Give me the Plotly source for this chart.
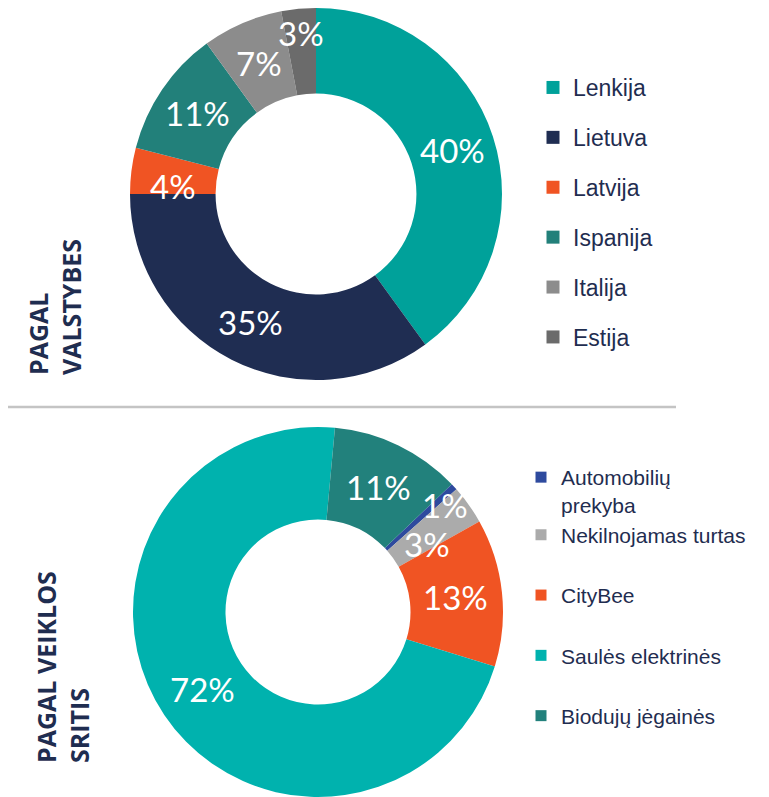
"""Two donut charts: investments by country and by business area."""

import math
import plotly.graph_objects as go

W, H = 769, 797
OFFSET = 8  # page body margin around the figure

# top donut - by country
country_labels = ['Lenkija', 'Lietuva', 'Latvija', 'Ispanija', 'Italija', 'Estija']
country_values = [40, 35, 4, 11, 7, 3]
country_colors = ['#00A19A', '#1F2D52', '#F05423', '#22807A', '#8C8C8C', '#6B6B6B']

# bottom donut - by business area
area_labels = ['Automobilių<br>prekyba', 'Nekilnojamas turtas', 'CityBee',
               'Saulės elektrinės', 'Biodujų jėgainės']
area_values = [0.6, 3.4, 12.9, 71.7, 11.4]
area_colors = ['#2E4A9E', '#ABABAB', '#F05423', '#00B2AE', '#22817C']

NAVY = '#1F2D50'


def px_x(x):
    return (x - OFFSET) / W


def px_y(y):
    # page pixel from top -> paper fraction from bottom
    return 1 - (y - OFFSET) / H


def pct_labels(values):
    total = sum(values)
    return [f"{round(100 * v / total):.0f}%" for v in values]


def label_positions(values, center, r_out, hole, rotation, dr, da):
    """Pixel positions of slice labels: mid angle, middle of the ring."""
    total = sum(values)
    r_mid = r_out * (1 + hole) / 2
    pos = []
    start = rotation
    for v, f, a in zip(values, dr, da):
        span = 360 * v / total
        ang = math.radians(start + span / 2 + a)
        r = r_mid * f
        pos.append((center[0] + r * math.sin(ang), center[1] - r * math.cos(ang)))
        start += span
    return pos


def donut(fig, labels, values, colors, center, r_out, hole, rotation, dr, da):
    cx, cy = center
    fig.add_trace(go.Pie(
        labels=[lab.replace('<br>', ' ') for lab in labels],
        values=values,
        hole=hole,
        sort=False,
        direction='clockwise',
        rotation=rotation,
        marker=dict(colors=colors, line=dict(width=0)),
        textinfo='none',
        domain=dict(x=[px_x(cx - r_out), px_x(cx + r_out)],
                    y=[max(0, px_y(cy + r_out)), px_y(cy - r_out)]),
        showlegend=False,
    ))
    for txt, (x, y) in zip(pct_labels(values),
                           label_positions(values, center, r_out, hole, rotation, dr, da)):
        fig.add_annotation(text=txt, xref='paper', yref='paper',
                           x=px_x(x), y=px_y(y), xanchor='center', yanchor='middle',
                           showarrow=False,
                           font=dict(family='Lato', size=33, color='white'))


fig = go.Figure()

donut(fig, country_labels, country_values, country_colors,
      center=(316, 194), r_out=186, hole=0.54, rotation=0,
      dr=[1, 1, 1, 1, 1, 1.126], da=[0, 0, -4, 0, 0, 0])
donut(fig, area_labels, area_values, area_colors,
      center=(318, 612), r_out=185, hole=0.5, rotation=46.3,
      dr=[1.2, 0.925, 1, 1, 1], da=[2.5, 3.4, 0, 0, 0])

# legend entries (dummy traces so item spacing can be controlled)
for name, color in zip(country_labels, country_colors):
    fig.add_trace(go.Scatter(
        x=[None], y=[None], mode='markers', name=name,
        marker=dict(symbol='square', size=13, color=color),
        legend='legend', legendgroup=name, hoverinfo='skip',
    ))

area_groups = ['g1', 'g1', 'g2', 'g3', 'g4']
for name, color, grp in zip(area_labels, area_colors, area_groups):
    fig.add_trace(go.Scatter(
        x=[None], y=[None], mode='markers', name=name,
        marker=dict(symbol='square', size=11, color=color),
        legend='legend2', legendgroup=grp, hoverinfo='skip',
    ))

fig.add_shape(type='line', xref='paper', yref='paper',
              x0=px_x(3), x1=px_x(676), y0=px_y(407), y1=px_y(407),
              line=dict(color='#C4C4C4', width=2.5))

side_font = dict(family='Open Sans', size=25, color=NAVY, weight='bold')
fig.add_annotation(text='PAGAL<br>VALSTYBES', xref='paper', yref='paper',
                   x=px_x(54), y=px_y(377), xanchor='center', yanchor='bottom',
                   textangle=-90, align='left', showarrow=False, font=side_font)
fig.add_annotation(text='PAGAL VEIKLOS<br>SRITIS', xref='paper', yref='paper',
                   x=px_x(62), y=px_y(765), xanchor='center', yanchor='bottom',
                   textangle=-90, align='left', showarrow=False, font=side_font)

fig.update_layout(
    width=W, height=H,
    margin=dict(l=0, r=0, t=0, b=0),
    paper_bgcolor='white',
    plot_bgcolor='rgba(0,0,0,0)',
    xaxis=dict(visible=False),
    yaxis=dict(visible=False),
    legend=dict(
        x=px_x(533), y=px_y(66), xanchor='left', yanchor='top',
        font=dict(family='Liberation Sans', size=23, color=NAVY),
        tracegroupgap=17, traceorder='grouped', bgcolor='rgba(0,0,0,0)',
    ),
    legend2=dict(
        x=px_x(521), y=px_y(457), xanchor='left', yanchor='top',
        font=dict(family='Liberation Sans', size=21, color=NAVY),
        tracegroupgap=30, traceorder='grouped', valign='top', bgcolor='rgba(0,0,0,0)',
    ),
)

fig.write_html('out.html')
